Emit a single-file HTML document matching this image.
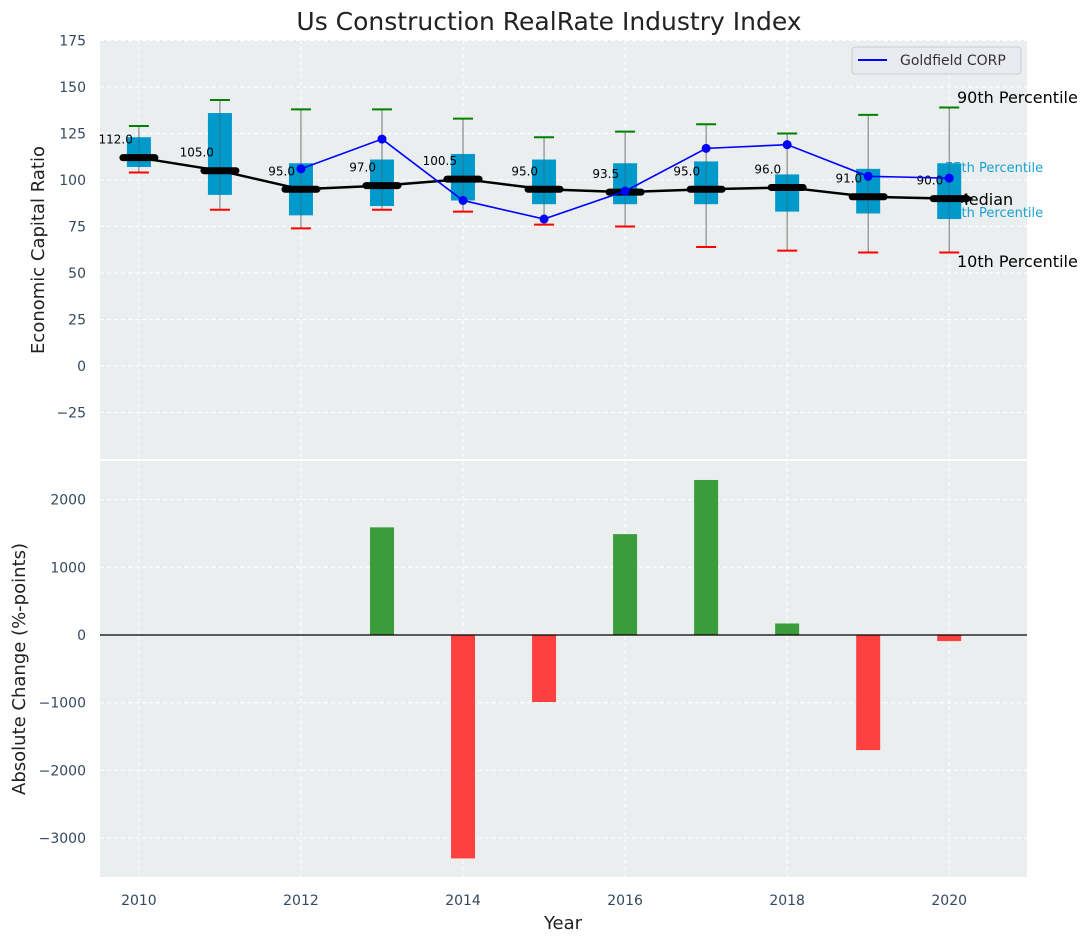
<!DOCTYPE html>
<html><head><meta charset="utf-8"><style>body{margin:0;background:#fff}svg{display:block;font-family:"DejaVu Sans","Liberation Sans",sans-serif}</style></head>
<body>
<svg id="c" width="1092" height="942"></svg>
<script>
const years=[2010,2011,2012,2013,2014,2015,2016,2017,2018,2019,2020];
const p10=[104,84,74,84,83,76,75,64,62,61,61];
const p25=[107,92,81,86,89,87,87,87,83,82,79];
const med=[112,105,95,97,100.5,95,93.5,95,96,91,90];
const p75=[123,136,109,111,114,111,109,110,103,106,109];
const p90=[129,143,138,138,133,123,126,130,125,135,139];
const gold=[null,null,106,122,89,79,94,117,119,102,101];
const change=[0,0,0,1590,-3300,-990,1490,2290,170,-1700,-90];
const yTicks=[-25,0,25,50,75,100,125,150,175];
const cTicks=[-3000,-2000,-1000,0,1000,2000];
const xTicks=[2010,2012,2014,2016,2018,2020];
const svg=document.getElementById('c');const NS='http://www.w3.org/2000/svg';
function el(t,a,txt,parent){const e=document.createElementNS(NS,t);for(const k in a)e.setAttribute(k,a[k]);if(txt!=null)e.textContent=txt;(parent||svg).appendChild(e);return e;}
const X=v=>100+(v-2009.52)*(927/11.44);
const Y=v=>366-1.86*v;
const Y2=v=>635-0.0677*v;
let e=el('rect',{x:100,y:40,width:927,height:419,fill:'#eaeeef'});

e=el('rect',{x:100,y:461,width:927,height:416,fill:'#eaeeef'});

const tc='#34495e';
xTicks.forEach(t=>{
 el('line',{x1:X(t),x2:X(t),y1:40,y2:459,stroke:'#fff','stroke-dasharray':'4,3'});
 el('line',{x1:X(t),x2:X(t),y1:461,y2:877,stroke:'#fff','stroke-dasharray':'4,3'});
 e=el('text',{x:X(t),y:905,'font-size':14,fill:tc,'text-anchor':'middle'},t);
 
});
yTicks.forEach(t=>{
 el('line',{x1:100,x2:1027,y1:Y(t),y2:Y(t),stroke:'#fff','stroke-dasharray':'4,3'});
 e=el('text',{x:86,y:Y(t)+5,'font-size':14,fill:tc,'text-anchor':'end'},t<0?'\u2212'+(-t):t);
 
});
cTicks.forEach(t=>{
 el('line',{x1:100,x2:1027,y1:Y2(t),y2:Y2(t),stroke:'#fff','stroke-dasharray':'4,3'});
 e=el('text',{x:86,y:Y2(t)+5,'font-size':14,fill:tc,'text-anchor':'end'},t<0?'\u2212'+(-t):t);
 
});
[['90th Percentile',957,103,16,'#000'],['75th Percentile',945,172,13,'#1aa0d0'],['Median',955,205,16,'#000'],['25th Percentile',945,217,13,'#1aa0d0'],['10th Percentile',957,267,16,'#000']].forEach(a=>{
 e=el('text',{x:a[1],y:a[2],'font-size':a[3],fill:a[4]},a[0]);
 
});
const bw=12;
years.forEach((yr,i)=>{
 const x=X(yr);
 e=el('line',{x1:x,x2:x,y1:Y(p90[i]),y2:Y(p10[i]),stroke:'#777','stroke-width':1});
 
 e=el('rect',{x:x-bw,y:Y(p75[i]),width:2*bw,height:Y(p25[i])-Y(p75[i]),fill:'#0099cc'});
 
 el('line',{x1:x,x2:x,y1:Y(p75[i]),y2:Y(p25[i]),stroke:'#555','stroke-width':1,opacity:0.5});
 e=el('line',{x1:x-10,x2:x+10,y1:Y(p90[i]),y2:Y(p90[i]),stroke:'green','stroke-width':2});
 
 e=el('line',{x1:x-10,x2:x+10,y1:Y(p10[i]),y2:Y(p10[i]),stroke:'red','stroke-width':2});
 
});
e=el('polyline',{points:years.map((y,i)=>X(y)+','+Y(med[i])).join(' '),fill:'none',stroke:'#000','stroke-width':2.5});

years.forEach((yr,i)=>{
 const x=X(yr);
 e=el('line',{x1:x-16,x2:x+16,y1:Y(med[i]),y2:Y(med[i]),stroke:'#000','stroke-width':7,'stroke-linecap':'round'});
 
 e=el('text',{x:x-6,y:Y(med[i])-14,'font-size':12,fill:'#000','text-anchor':'end'},med[i].toFixed(1));
 
});
el('polygon',{points:`${X(2020)+16},${Y(90)-5} ${X(2020)+24},${Y(90)} ${X(2020)+16},${Y(90)+5}`,fill:'#000'});
const gp=years.map((y,i)=>gold[i]==null?null:[X(y),Y(gold[i])]).filter(p=>p);
e=el('polyline',{points:gp.map(p=>p.join(',')).join(' '),fill:'none',stroke:'#0000ff','stroke-width':1.6});

gp.forEach(p=>{e=el('circle',{cx:p[0],cy:p[1],r:4.5,fill:'#0000ff'});
 });
e=el('g',{});
el('rect',{x:852,y:47,width:169,height:27,rx:3,fill:'#eaeaf2',stroke:'#ccc'},null,e);
el('line',{x1:858,x2:887,y1:60,y2:60,stroke:'#0000ff','stroke-width':2},null,e);
el('text',{x:900,y:65,'font-size':14,fill:'#333'},'Goldfield CORP',e);
years.forEach((yr,i)=>{
 if(!change[i])return;
 const y0=Y2(0),y1=Y2(change[i]);
 e=el('rect',{x:X(yr)-12,y:Math.min(y0,y1),width:24,height:Math.abs(y1-y0),fill:change[i]>0?'#3a9c3a':'#ff4040'});
 
});
el('line',{x1:100,x2:1027,y1:Y2(0),y2:Y2(0),stroke:'#000','stroke-width':1.2});
e=el('text',{x:549,y:30,'font-size':25,fill:'#222','text-anchor':'middle'},'Us Construction RealRate Industry Index');

e=el('text',{x:0,y:0,'font-size':18,fill:'#222','text-anchor':'middle',transform:'translate(44,250) rotate(-90)'},'Economic Capital Ratio');

e=el('text',{x:0,y:0,'font-size':18,fill:'#222','text-anchor':'middle',transform:'translate(25,669) rotate(-90)'},'Absolute Change (%-points)');

e=el('text',{x:563,y:929,'font-size':18,fill:'#222','text-anchor':'middle'},'Year');

</script>
</body></html>
